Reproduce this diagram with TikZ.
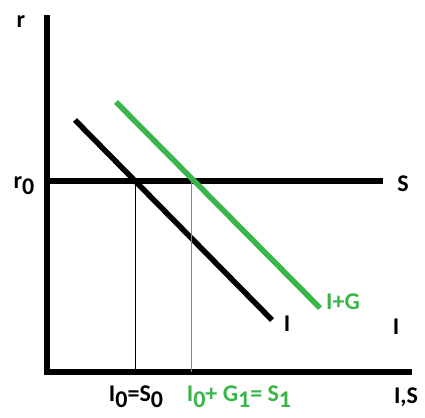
\documentclass[tikz,border=0pt]{standalone}
\usepackage{fontspec}
\setmainfont{Carlito}
\usetikzlibrary{positioning}
\definecolor{isgreen}{RGB}{57,181,74}
\newcommand{\lowsub}[1]{\raisebox{-0.5ex}{#1}}

\begin{document}
\begin{tikzpicture}[
        x=1pt, y=-1pt,
        axis/.style={line width=6.5pt},
        curve/.style={line width=5.5pt},
        guide/.style={line width=1pt},
        lbl/.style={font=\fontsize{24}{28}\selectfont\bfseries, inner sep=0pt}
    ]
        \useasboundingbox (0,0) rectangle (425,417);
        % axes
        \coordinate (top) at (47,15);
        \coordinate (o) at (47,375);
        \coordinate (right) at (412,372);
        \draw[axis] (top) -- (o);
        \draw[axis] (44,372) -- (right);
        % saving line and schedules
        \coordinate (r0) at (47,181);
        \coordinate (send) at (383,181);
        \draw[curve] (r0) -- (send);
        \coordinate (ia) at (75,120);
        \coordinate (ib) at (272,320);
        \draw[curve] (ia) -- (ib);
        \coordinate (ga) at (116,102);
        \coordinate (gb) at (320,308);
        \draw[curve, isgreen] (ga) -- (gb);
        % equilibria
        \coordinate (e0) at (135,181);
        \coordinate (f0) at (135,372);
        \coordinate (e1) at (191,181);
        \coordinate (f1) at (191,372);
        \draw[guide] (e0) -- (f0);
        \draw[guide, isgreen] (e1) -- (f1);
        % labels
        \node[lbl] (rlab) at (21,22) {r};
        \node[lbl] (r0lab) at (24,186) {r\lowsub{0}};
        \node[lbl] (slab) at (403,184) {S};
        \node[lbl] (ilab) at (287,324) {I};
        \node[lbl, isgreen] (iglab) at (343,302) {I+G};
        \node[lbl] (ilab2) at (396,327) {I};
        \node[lbl] (eq0) at (136,397) {I\lowsub{0}=S\lowsub{0}};
        \node[lbl, isgreen] (eq1) at (239,397) {I\lowsub{0}+ G\lowsub{1}= S\lowsub{1}};
        \node[lbl] (xlab) at (406,397) {I,S};
\end{tikzpicture}
\end{document}
